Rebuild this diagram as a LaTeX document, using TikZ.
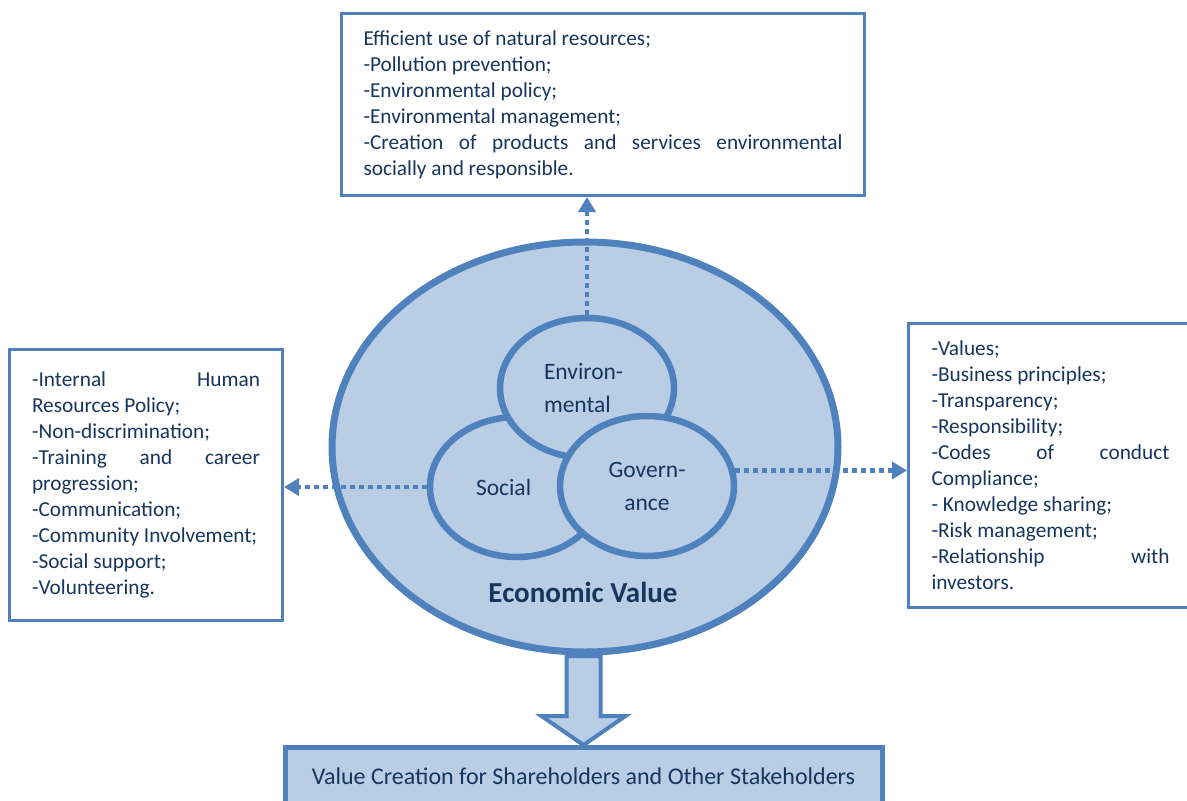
\documentclass[tikz,border=0pt]{standalone}
\usepackage{fontspec}
\setmainfont{Carlito}
\usetikzlibrary{shapes.geometric,arrows.meta,shadows,positioning}

\definecolor{csrline}{RGB}{79,129,189}
\definecolor{csrfill}{RGB}{185,205,229}
\definecolor{csrtext}{RGB}{23,54,93}

\setlength{\parindent}{0pt}
\hyphenpenalty=10000
\tolerance=10000

\tikzstyle{listbox} = [draw=csrline, line width=3pt, rectangle, fill=white,
    text=csrtext, align=justify, font=\fontsize{21.3pt}{26pt}\selectfont,
    anchor=north west]
\tikzstyle{pillar} = [draw=csrline, fill=csrfill, ellipse, line width=6.5pt,
    minimum width=174pt, minimum height=140pt, inner sep=0pt, text=csrtext,
    font=\fontsize{23.5pt}{33pt}\selectfont]
\tikzstyle{outer} = [draw=csrline, fill=csrfill, ellipse, line width=7pt,
    minimum width=506pt, minimum height=410pt,
    drop shadow={shadow xshift=2pt, shadow yshift=-3pt, fill=black!40, opacity=1}]
\tikzstyle{valuebox} = [draw=csrline, fill=csrfill, rectangle, line width=5pt,
    text=csrtext, font=\fontsize{24pt}{28pt}\selectfont, anchor=north]
\tikzstyle{dotline} = [draw=csrline, line width=4.5pt, dash pattern=on 4.5pt off 4.5pt,
    -{Triangle[length=15pt,width=17pt]}]
\tikzstyle{blockarrow} = [draw=csrline, fill=csrfill, line width=4pt, line join=miter]

\begin{document}
\begin{tikzpicture}[auto, x=1pt, y=-1pt]
    \useasboundingbox (0,0) rectangle (1187,801);

    \node [listbox, text width=479pt, inner xsep=22pt, minimum height=182pt] (envbox) at (340,12)
        {Efficient use of natural resources;\par
         -Pollution prevention;\par
         -Environmental policy;\par
         -Environmental management;\par
         -Creation of products and services environmental socially and responsible.};
    \node [listbox, text width=228pt, inner xsep=22.5pt, minimum height=271pt] (socbox) at (8,348)
        {-Internal Human Resources Policy;\par
         -Non-discrimination;\par
         -Training and career progression;\par
         -Communication;\par
         -Community Involvement;\par
         -Social support;\par
         -Volunteering.};
    \node [listbox, text width=238pt, inner xsep=23pt, minimum height=284pt] (govbox) at (907,322)
        {-Values;\par
         -Business principles;\par
         -Transparency;\par
         -Responsibility;\par
         -Codes of conduct Compliance;\par
         - Knowledge sharing;\par
         -Risk management;\par
         -Relationship with investors.};

    \node [valuebox, minimum width=597pt, minimum height=58pt] (value) at (583.5,745)
        {Value Creation for Shareholders and Other Stakeholders};
    \draw [blockarrow] (value.north) -- ++(-42,-29) -- ++(25,0) -- ++(0,-60)
        -- ++(34,0) -- ++(0,60) -- ++(25,0) -- cycle;

    \node [outer] (econ) at (585,447) {};
    \node [pillar, text width=82pt, align=left] (soc) at (517,487) {Social};
    \node [pillar, text width=86pt, align=left] (env) at (587,388) {Environ-\\mental};
    \node [pillar, align=center] (gov) at (647,486) {Govern-\\ance};
    \node [text=csrtext, font=\fontsize{29pt}{34pt}\selectfont\bfseries] (econlabel) at (583,592)
        {Economic Value};

    \draw [dotline] (env.north) -- (env.north |- envbox.south);
    \draw [dotline] (soc.west) -- (soc.west -| socbox.east);
    \draw [dotline] (gov.10) -- (gov.10 -| govbox.west);
\end{tikzpicture}
\end{document}
